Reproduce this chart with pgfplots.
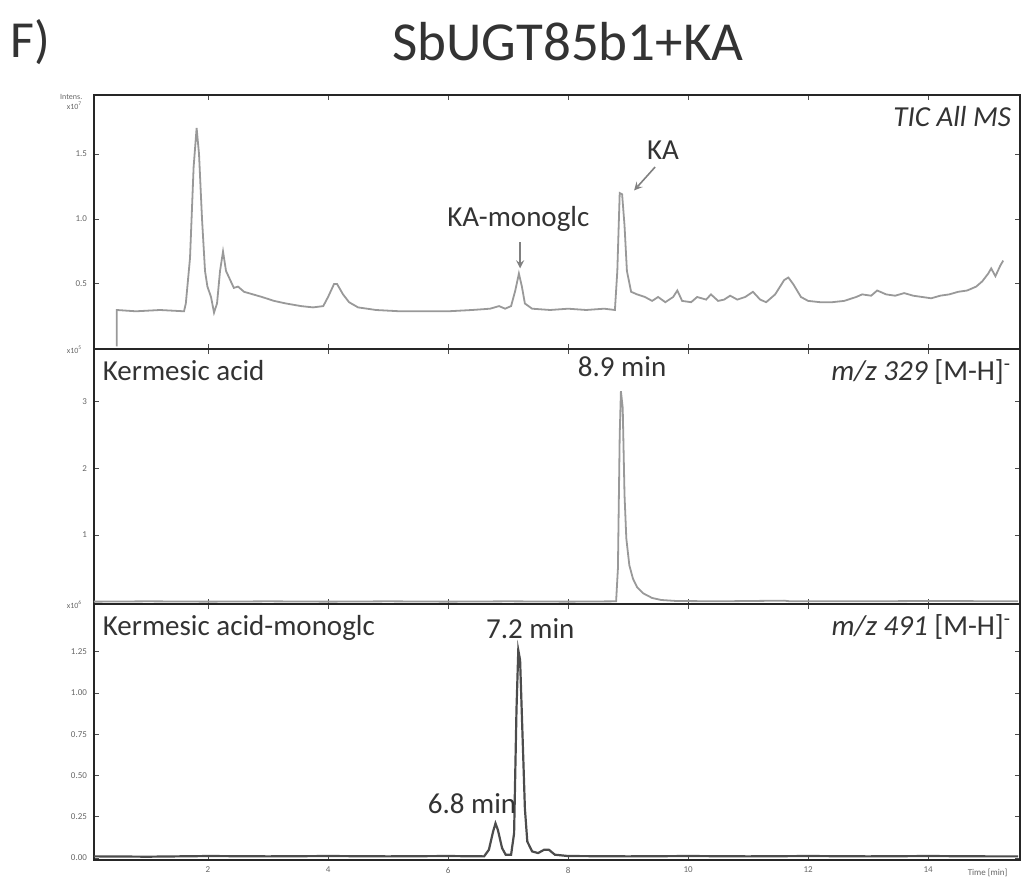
\documentclass[border=0pt]{standalone}
\usepackage{fontspec}
\setmainfont{Carlito}
\usepackage{pgfplots}
\pgfplotsset{compat=1.18}
\begin{document}
\begin{tikzpicture}
\pgfplotsset{
  chrom/.style={
    scale only axis, width=463pt, xmin=0.1, xmax=15.53,
    axis line style={line width=0.9pt, black!85},
    xtick={2,4,...,14}, tick style={black!70, line width=0.5pt},
    major tick length=2.5pt,
    tick label style={font=\fontsize{4.5}{5}\selectfont, text=black!60},
    /pgf/number format/assume math mode=true,
    clip=false,
  },
}
\tikzset{lbl/.style={font=\fontsize{14.5}{16}\selectfont, text=black!80}}
\useasboundingbox (-47pt,-9pt) rectangle (467.5pt,430pt);
\node[font=\fontsize{26}{28}\selectfont, text=black!80] at (-32pt,409pt) {F)};
\node[font=\fontsize{27.5}{30}\selectfont, text=black!80] at (237pt,409pt) {SbUGT85b1+KA};

% top: TIC
\begin{axis}[chrom, at={(0,255.5pt)}, anchor=south west, height=127pt,
  ymin=0, ymax=1.954, ytick={0.5,1.0,1.5}, xticklabels={},
  yticklabel style={/pgf/number format/fixed, /pgf/number format/fixed zerofill, /pgf/number format/precision=1}]
\addplot[black!40, line width=0.9pt] coordinates {
(0.48,0.02) (0.48,0.30) (0.8,0.29) (1.2,0.30) (1.6,0.29) (1.63,0.35) (1.70,0.70) (1.76,1.40) (1.81,1.70) (1.85,1.50) (1.90,1.00) (1.95,0.60) (1.99,0.48) (2.05,0.40) (2.10,0.28) (2.15,0.35) (2.20,0.60) (2.25,0.75) (2.30,0.60) (2.37,0.53) (2.43,0.47) (2.50,0.48) (2.60,0.44) (2.75,0.42) (2.9,0.40) (3.1,0.37) (3.3,0.35) (3.55,0.33) (3.75,0.32) (3.92,0.33) (4.0,0.40) (4.1,0.50) (4.15,0.50) (4.25,0.42) (4.35,0.36) (4.5,0.32) (4.8,0.30) (5.2,0.29) (5.6,0.29) (6.0,0.29) (6.4,0.30) (6.7,0.31) (6.85,0.33) (6.95,0.31) (7.05,0.33) (7.12,0.45) (7.18,0.58) (7.23,0.48) (7.28,0.35) (7.4,0.31) (7.7,0.30) (8.0,0.31) (8.3,0.30) (8.6,0.31) (8.78,0.30) (8.82,0.60) (8.86,1.20) (8.90,1.19) (8.94,0.95) (8.98,0.60) (9.05,0.44) (9.15,0.42) (9.28,0.40) (9.4,0.37) (9.5,0.40) (9.62,0.36) (9.75,0.40) (9.82,0.45) (9.9,0.37) (10.05,0.36) (10.15,0.40) (10.3,0.38) (10.38,0.42) (10.5,0.37) (10.6,0.38) (10.7,0.41) (10.82,0.38) (10.95,0.40) (11.08,0.44) (11.2,0.38) (11.3,0.36) (11.45,0.42) (11.6,0.53) (11.67,0.55) (11.75,0.50) (11.88,0.40) (12.0,0.37) (12.2,0.36) (12.4,0.36) (12.6,0.37) (12.8,0.40) (12.9,0.42) (13.05,0.41) (13.15,0.45) (13.3,0.42) (13.45,0.41) (13.6,0.43) (13.75,0.41) (13.9,0.40) (14.05,0.39) (14.2,0.41) (14.35,0.42) (14.5,0.44) (14.65,0.45) (14.8,0.48) (14.9,0.52) (15.0,0.58) (15.05,0.62) (15.12,0.56) (15.2,0.64) (15.25,0.68)
};
\node[lbl, font=\fontsize{14.5}{16}\selectfont\itshape, anchor=north east] at (rel axis cs:0.998,0.985) {TIC All MS};
\node[lbl] at (axis cs:7.17,1.0) {KA-monoglc};
\draw[->, black!50, line width=0.8pt, >=stealth] (axis cs:7.2,0.82) -- (axis cs:7.2,0.62);
\node[lbl] at (axis cs:9.58,1.53) {KA};
\draw[->, black!50, line width=0.8pt, >=stealth] (axis cs:9.45,1.40) -- (axis cs:9.1,1.22);
\node[font=\fontsize{4}{5}\selectfont, text=black!60, anchor=south east] at (rel axis cs:-0.005,0.955) {Intens.};
\node[font=\fontsize{4}{5}\selectfont, text=black!60, anchor=south east] at (rel axis cs:-0.005,0.915) {x10\textsuperscript{7}};
\end{axis}

% middle: m/z 329
\begin{axis}[chrom, at={(0,128pt)}, anchor=south west, height=127.5pt,
  ymin=-0.03, ymax=3.78, ytick={1,2,3}, xticklabels={}]
\addplot[black!40, line width=0.9pt] coordinates {
(0.1,0.005) (1,0.01) (2,0.005) (3,0.01) (4,0.005) (5,0.01) (6,0.005) (7,0.01) (8,0.005) (8.8,0.01) (8.83,0.5) (8.86,2.5) (8.88,3.15) (8.91,2.9) (8.94,1.6) (8.97,0.95) (9.02,0.55) (9.08,0.35) (9.15,0.22) (9.25,0.13) (9.4,0.06) (9.55,0.03) (9.8,0.015) (10.5,0.01) (11.6,0.02) (11.7,0.01) (13,0.01) (14,0.015) (15.5,0.01)
};
\node[lbl, anchor=north west] at (rel axis cs:0.002,0.985) {Kermesic acid};
\node[lbl, anchor=north] at (axis cs:8.9,3.78) {8.9 min};
\node[lbl, anchor=north east] at (rel axis cs:0.998,0.985) {\textit{m/z 329} [M-H]\textsuperscript{-}};
\node[font=\fontsize{4}{5}\selectfont, text=black!60, anchor=south east] at (rel axis cs:-0.005,0.955) {x10\textsuperscript{5}};
\end{axis}

% bottom: m/z 491
\begin{axis}[chrom, at={(0,0)}, anchor=south west, height=128pt,
  ymin=-0.012, ymax=1.54, ytick={0,0.25,0.5,0.75,1.0,1.25},
  yticklabel style={/pgf/number format/fixed, /pgf/number format/fixed zerofill, /pgf/number format/precision=2}]
\addplot[black!70, line width=1.1pt] coordinates {
(0.1,0.01) (1,0.008) (2,0.012) (3,0.01) (4,0.012) (5,0.01) (6,0.012) (6.6,0.01) (6.68,0.05) (6.75,0.16) (6.79,0.21) (6.83,0.17) (6.9,0.06) (6.96,0.02) (7.05,0.02) (7.1,0.15) (7.14,0.9) (7.17,1.26) (7.2,1.2) (7.24,0.75) (7.28,0.3) (7.32,0.1) (7.4,0.04) (7.5,0.03) (7.6,0.05) (7.68,0.05) (7.78,0.02) (8,0.012) (9,0.01) (10,0.012) (11,0.01) (12,0.012) (13,0.01) (14,0.012) (15,0.01) (15.5,0.01)
};
\node[lbl, anchor=north west] at (rel axis cs:0.002,0.985) {Kermesic acid-monoglc};
\node[lbl] at (axis cs:7.37,1.39) {7.2 min};
\node[lbl] at (axis cs:6.4,0.33) {6.8 min};
\node[lbl, anchor=north east] at (rel axis cs:0.998,0.985) {\textit{m/z 491} [M-H]\textsuperscript{-}};
\node[font=\fontsize{4}{5}\selectfont, text=black!60, anchor=south east] at (rel axis cs:-0.005,0.955) {x10\textsuperscript{6}};
\node[font=\fontsize{4.5}{5}\selectfont, text=black!60] at (rel axis cs:0.965,-0.05) {Time [min]};
\end{axis}
\end{tikzpicture}
\end{document}
